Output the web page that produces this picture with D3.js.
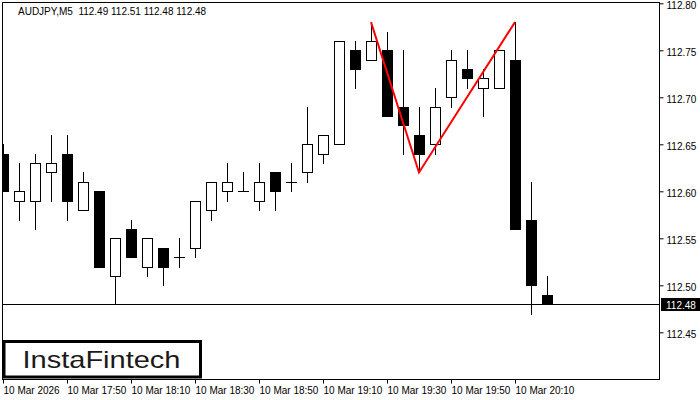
<!DOCTYPE html>
<html>
<head>
<meta charset="utf-8">
<script src="https://cdn.jsdelivr.net/npm/d3@7"></script>
<style>
  html, body { margin: 0; padding: 0; background: #fff; }
  svg { display: block; }
  text { font-family: "Liberation Sans", Arial, sans-serif; }
</style>
</head>
<body>
<svg id="chart" width="700" height="400"></svg>
<script>
// ---- data ----
const symbolTitle = "AUDJPY,M5  112.49 112.51 112.48 112.48";
const opens  = [112.64,112.59,112.59,112.62,112.64,112.58,112.60,112.51,112.56,112.52,112.54,112.53,112.54,112.58,112.60,112.60,112.59,112.62,112.61,112.62,112.64,112.65,112.75,112.74,112.75,112.69,112.66,112.65,112.70,112.73,112.71,112.71,112.74,112.57,112.49];
const highs  = [112.65,112.63,112.64,112.66,112.66,112.62,112.60,112.55,112.57,112.55,112.54,112.55,112.59,112.61,112.63,112.62,112.63,112.62,112.63,112.69,112.66,112.76,112.76,112.78,112.77,112.75,112.69,112.71,112.75,112.75,112.73,112.75,112.78,112.61,112.51];
const lows   = [112.60,112.57,112.56,112.59,112.57,112.58,112.52,112.48,112.53,112.51,112.50,112.52,112.53,112.57,112.59,112.60,112.58,112.58,112.60,112.61,112.63,112.65,112.71,112.74,112.68,112.64,112.62,112.64,112.69,112.71,112.68,112.71,112.56,112.47,112.48];
const closes = [112.60,112.60,112.63,112.63,112.59,112.61,112.52,112.55,112.53,112.55,112.52,112.53,112.59,112.61,112.61,112.60,112.61,112.60,112.61,112.65,112.66,112.76,112.73,112.76,112.68,112.67,112.64,112.69,112.74,112.72,112.72,112.75,112.56,112.50,112.48];
const currentPrice = 112.48;
const yTickValues = [112.45,112.50,112.55,112.60,112.65,112.70,112.75,112.80];
const xTickIndex  = [0,4,8,12,16,20,24,28,32];
const xTickLabels = ["10 Mar 2026","10 Mar 17:50","10 Mar 18:10","10 Mar 18:30","10 Mar 18:50","10 Mar 19:10","10 Mar 19:30","10 Mar 19:50","10 Mar 20:10"];
const patternIndex  = [23, 26, 32];
const patternValues = [112.78, 112.62, 112.78];
const logoText = "InstaFintech";

// ---- layout ----
const svg = d3.select("#chart");
const plot = {left: 2.5, top: 2.5, right: 659.5, bottom: 379.5};

const x = d3.scaleLinear().domain([0, 34]).range([3, 547]);
const y = d3.scaleLinear().domain([112.50, 112.80]).range([285.3, 3.3]);
const candles = opens.map((o, i) => ({i, o, h: highs[i], l: lows[i], c: closes[i]}));

svg.append("defs").append("clipPath").attr("id", "clip")
  .append("rect").attr("x", plot.left).attr("y", plot.top)
  .attr("width", plot.right - plot.left).attr("height", plot.bottom - plot.top);

const g = svg.append("g").attr("clip-path", "url(#clip)");

// current price line
g.append("line")
  .attr("x1", plot.left).attr("x2", plot.right)
  .attr("y1", Math.round(y(currentPrice)) + 0.5).attr("y2", Math.round(y(currentPrice)) + 0.5)
  .attr("stroke", "#000").attr("stroke-width", 1);

const px = v => Math.round(v) + 0.5;

// wicks
g.selectAll("line.wick").data(candles).enter().append("line")
  .attr("class", "wick")
  .attr("x1", d => px(x(d.i))).attr("x2", d => px(x(d.i)))
  .attr("y1", d => Math.round(y(d.h))).attr("y2", d => Math.round(y(d.l)) + 1)
  .attr("stroke", "#000").attr("stroke-width", 1);

// bodies
const bodies = candles.filter(d => d.o !== d.c);
g.selectAll("rect.body").data(bodies).enter().append("rect")
  .attr("class", "body")
  .attr("x", d => px(x(d.i)) - 5)
  .attr("width", 10)
  .attr("y", d => px(y(Math.max(d.o, d.c))))
  .attr("height", d => Math.round(y(Math.min(d.o, d.c))) - Math.round(y(Math.max(d.o, d.c))))
  .attr("fill", d => d.c > d.o ? "#fff" : "#000")
  .attr("stroke", "#000").attr("stroke-width", 1);

// dojis
const dojis = candles.filter(d => d.o === d.c);
g.selectAll("line.doji").data(dojis).enter().append("line")
  .attr("class", "doji")
  .attr("x1", d => px(x(d.i)) - 5.5).attr("x2", d => px(x(d.i)) + 5.5)
  .attr("y1", d => px(y(d.o))).attr("y2", d => px(y(d.o)))
  .attr("stroke", "#000").attr("stroke-width", 1);

// pattern lines
g.append("path")
  .datum(patternIndex.map((idx, k) => [x(idx), y(patternValues[k])]))
  .attr("d", d3.line())
  .attr("fill", "none").attr("stroke", "#ff0000").attr("stroke-width", 2);

// frame
svg.append("rect")
  .attr("x", plot.left).attr("y", plot.top)
  .attr("width", plot.right - plot.left).attr("height", plot.bottom - plot.top)
  .attr("fill", "none").attr("stroke", "#000").attr("stroke-width", 1);

// y axis
const yAxis = d3.axisRight(y).tickValues(yTickValues).tickSize(4).tickPadding(3)
  .tickFormat(d3.format(".2f"));
const yg = svg.append("g").attr("transform", `translate(${plot.right},0)`).call(yAxis);
yg.select(".domain").remove();
yg.selectAll("line").attr("stroke", "#000");
yg.selectAll("text").attr("font-size", 10).attr("font-family", "Liberation Sans, Arial, sans-serif")
  .attr("fill", "#000").attr("dy", "0.5em");

// current price label
const cy = y(currentPrice);
svg.append("rect").attr("x", 661).attr("y", Math.round(cy) - 6).attr("width", 39).attr("height", 13).attr("fill", "#000");
svg.append("text").attr("x", 666).attr("y", Math.round(cy) + 4.5)
  .attr("font-size", 10).attr("fill", "#fff").text(d3.format(".2f")(currentPrice));

// x axis
const xAxis = d3.axisBottom(x).tickValues(xTickIndex).tickSize(4).tickPadding(3)
  .tickFormat((d, k) => xTickLabels[k]);
const xg = svg.append("g").attr("transform", `translate(0,${plot.bottom})`).call(xAxis);
xg.select(".domain").remove();
xg.selectAll("line").attr("stroke", "#000");
xg.selectAll("text").attr("text-anchor", "start").attr("x", 0)
  .attr("font-size", 10).attr("font-family", "Liberation Sans, Arial, sans-serif").attr("fill", "#000");

// title
svg.append("text").attr("x", 18).attr("y", 15).attr("font-size", 10).attr("fill", "#000")
  .style("white-space", "pre").attr("xml:space", "preserve").text(symbolTitle);

// logo
svg.append("rect").attr("x", 4).attr("y", 341.5).attr("width", 196.5).attr("height", 35.5)
  .attr("fill", "#fff").attr("stroke", "#000").attr("stroke-width", 3);
svg.append("text").attr("x", 22.5).attr("y", 367.5)
  .attr("font-family", "Inter, 'Open Sans', sans-serif").attr("font-size", 24).attr("font-weight", 500)
  .attr("fill", "#1a1a1a").attr("textLength", 158).attr("lengthAdjust", "spacingAndGlyphs")
  .text(logoText);
</script>
</body>
</html>
